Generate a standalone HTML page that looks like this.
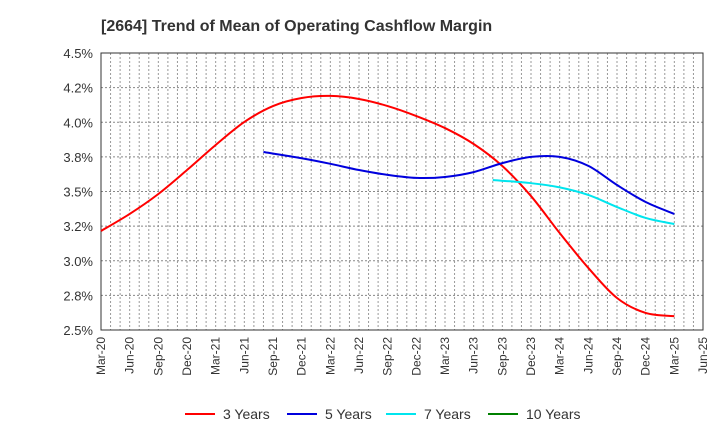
<!DOCTYPE html>
<html><head><meta charset="utf-8"><style>
body{margin:0;background:#fff;font-family:"Liberation Sans",sans-serif}
</style></head><body>
<svg id="c" width="720" height="440" xmlns="http://www.w3.org/2000/svg" font-family="Liberation Sans, sans-serif">
<text x="101" y="31" font-size="16" font-weight="bold" fill="#333">[2664]  Trend of Mean of Operating Cashflow Margin</text>
<g id="grid"></g><g id="axes"></g><g id="series"></g><g id="legend"></g>
</svg>
<script>
const xLabels=["Mar-20","Jun-20","Sep-20","Dec-20","Mar-21","Jun-21","Sep-21","Dec-21","Mar-22","Jun-22","Sep-22","Dec-22","Mar-23","Jun-23","Sep-23","Dec-23","Mar-24","Jun-24","Sep-24","Dec-24","Mar-25","Jun-25"];
const yTicks=[2.5,2.75,3.0,3.25,3.5,3.75,4.0,4.25,4.5];
const yLabels=["2.5%","2.8%","3.0%","3.2%","3.5%","3.8%","4.0%","4.2%","4.5%"];
const months3=[0,3,6,9,12,15,18,21,24,27,30,33,36,39,42,45,48,51,54,57,60];
const vals3=[3.215,3.338,3.482,3.655,3.836,4.002,4.117,4.175,4.19,4.168,4.117,4.045,3.958,3.843,3.684,3.467,3.20,2.948,2.731,2.623,2.60];
const months5=[17,21,24,27,30,33,36,39,42,45,48,51,54,57,60];
const vals5=[3.785,3.74,3.70,3.655,3.62,3.598,3.605,3.64,3.705,3.75,3.75,3.685,3.547,3.424,3.338];
const months7=[41,45,48,51,54,57,60];
const vals7=[3.583,3.56,3.53,3.475,3.388,3.309,3.265];
const months10=[];
const vals10=[];
const L=101,R=703,T=53,B=330,NM=63;
const X=m=>L+(R-L)*m/NM;
const Y=v=>B-(v-2.5)/2*(B-T);
const NS="http://www.w3.org/2000/svg";
function mk(t,a,p){const e=document.createElementNS(NS,t);for(const k in a)e.setAttribute(k,a[k]);p.appendChild(e);return e;}
const g=document.getElementById('grid'),ax=document.getElementById('axes'),se=document.getElementById('series'),lg=document.getElementById('legend');
for(let m=1;m<NM;m++){const l=mk('line',{x1:X(m),x2:X(m),y1:T,y2:B,stroke:'#999','stroke-dasharray':'2,2','stroke-width':1},g);

}
yTicks.forEach((v,i)=>{const l=mk('line',{x1:L,x2:R,y1:Y(v),y2:Y(v),stroke:'#888','stroke-dasharray':'2,2','stroke-width':1},g);


const t=mk('text',{x:L-8,y:Y(v)+5,'text-anchor':'end','font-size':13,fill:'#333'},ax);t.textContent=yLabels[i];

});
xLabels.forEach((s,i)=>{const x=X(i*3);const t=mk('text',{transform:`translate(${x+4},337) rotate(-90)`,'text-anchor':'end','font-size':12,fill:'#333'},ax);t.textContent=s;

});
const f=mk('rect',{x:L,y:T,width:R-L,height:B-T,fill:'none',stroke:'#333','stroke-width':1},ax);


function path(ms,vs){const p=ms.map((m,i)=>[X(m),Y(vs[i])]);if(!p.length)return'';let d=`M${p[0][0]},${p[0][1]}`;
for(let i=0;i<p.length-1;i++){const p0=p[i-1]||p[i],p1=p[i],p2=p[i+1],p3=p[i+2]||p2;
d+=` C${p1[0]+(p2[0]-p0[0])/6},${p1[1]+(p2[1]-p0[1])/6} ${p2[0]-(p3[0]-p1[0])/6},${p2[1]-(p3[1]-p1[1])/6} ${p2[0]},${p2[1]}`;}return d;}
const S=[["3 Years",months3,vals3,"#ff0000",185],["5 Years",months5,vals5,"#0000dd",287],["7 Years",months7,vals7,"#00e5ee",386],["10 Years",months10,vals10,"#008000",488]];
S.forEach(([n,ms,vs,c,lx])=>{if(ms.length){const p=mk('path',{d:path(ms,vs),fill:'none',stroke:c,'stroke-width':2},se);

}
const gg=mk('g',{},lg);


mk('line',{x1:lx,x2:lx+30,y1:414,y2:414,stroke:c,'stroke-width':2},gg);
const t=mk('text',{x:lx+38,y:419,'font-size':14,fill:'#333'},gg);t.textContent=n;});
</script>
</body></html>
